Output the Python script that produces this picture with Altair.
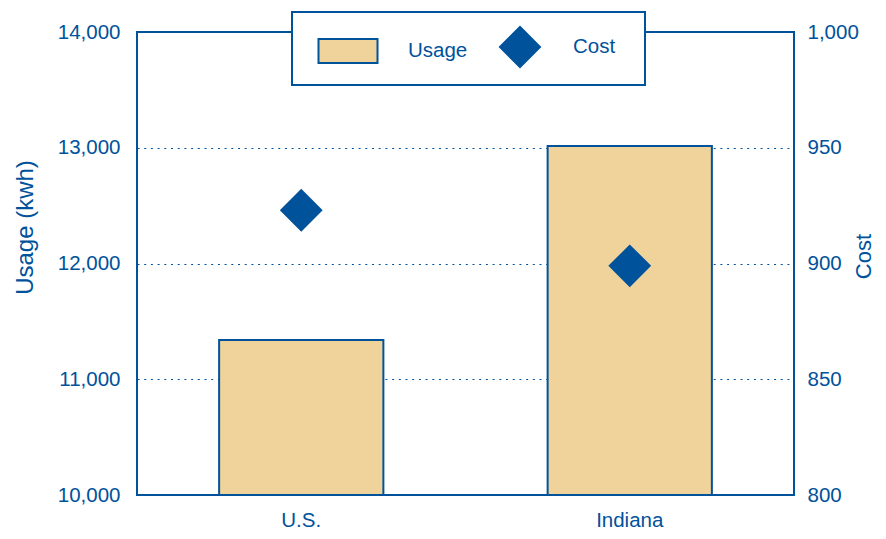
import altair as alt
import pandas as pd

# ---- data ----
regions = ["U.S.", "Indiana"]
usage = [11340, 13015]
cost = [923, 899]
usage_ticks = [10000, 11000, 12000, 13000, 14000]
cost_ticks = [800, 850, 900, 950, 1000]
series = ["Usage", "Cost"]

BLUE = "#00529B"
TAN = "#EFD39B"
FONT = "Liberation Sans"
RECT = "M-1.825,-0.6H1.125V0.6H-1.825Z"

df = pd.DataFrame({"region": regions, "usage": usage, "cost": cost,
                   "series": ["Cost"] * len(regions)})

x_enc = alt.X(
    "region:N", sort=regions,
    scale=alt.Scale(paddingInner=0.5, paddingOuter=0.25),
    axis=alt.Axis(title="", labelAngle=0, ticks=False, domain=False,
                  labelFontSize=20.5, labelColor=BLUE, labelFont=FONT,
                  labelPadding=15),
)

bars = alt.Chart(df).mark_bar(fill=TAN, stroke=BLUE, strokeWidth=2).encode(
    x=x_enc,
    y=alt.Y("usage:Q",
            scale=alt.Scale(domain=[10000, 14000], zero=False, nice=False),
            axis=alt.Axis(orient="left", title="Usage (kwh)", values=usage_ticks,
                          format=",.0f", ticks=False, domain=False, grid=True,
                          gridColor=BLUE, gridDash=[2, 4.7], gridWidth=1.2,
                          labelFontSize=20.5, labelColor=BLUE, labelFont=FONT,
                          labelPadding=17, titleFontSize=24, titleColor=BLUE,
                          titleFont=FONT, titleFontWeight="normal",
                          titlePadding=20, titleY=195)),
    y2=alt.datum(10000),
)

PAD = "\u2800"
legend_kw = dict(
    orient="none", legendX=155, legendY=-20, direction="horizontal",
    title=" ", titleOrient="left", titleFontSize=1, titlePadding=28,
    fillColor="white", strokeColor=BLUE, padding=14,
    labelFontSize=20.5, labelColor=BLUE, labelFont=FONT, labelOffset=32,
    columnPadding=13, symbolSize=1600, symbolStrokeWidth=2,
    symbolStrokeColor=BLUE, symbolOpacity=1,
    labelExpr="datum.label + '" + PAD + "'",
)

points = alt.Chart(df).mark_point(filled=True, size=1600,
                                  strokeWidth=2, opacity=1).encode(
    x=alt.X("region:N", sort=regions),
    y=alt.Y("cost:Q",
            scale=alt.Scale(domain=[800, 1000], zero=False, nice=False),
            axis=alt.Axis(orient="right", title="Cost", values=cost_ticks,
                          format=",.0f", ticks=False, domain=False, grid=False,
                          labelFontSize=20.5, labelColor=BLUE, labelFont=FONT,
                          labelPadding=13, titleFontSize=22, titleColor=BLUE,
                          titleFont=FONT, titleFontWeight="normal",
                          titleAngle=270, titleBaseline="top",
                          titlePadding=-5, titleY=224)),
    color=alt.Color("series:N", scale=alt.Scale(domain=series, range=[TAN, BLUE]),
                    legend=alt.Legend(**legend_kw)),
    stroke=alt.Stroke("series:N", scale=alt.Scale(domain=series, range=[BLUE, BLUE]),
                      legend=alt.Legend(**legend_kw)),
    shape=alt.Shape("series:N", scale=alt.Scale(domain=series, range=[RECT, "diamond"]),
                    legend=alt.Legend(**legend_kw)),
)

chart = alt.layer(bars, points).resolve_scale(y="independent").properties(
    width=657, height=463,
    autosize=alt.AutoSizeParams(type="none"),
    padding={"left": 129, "top": 24, "right": 84, "bottom": 36},
).configure_view(stroke=BLUE, strokeWidth=2).configure_legend(strokeWidth=2)

chart.save("out.html", embed_options={"renderer": "svg", "actions": False})
